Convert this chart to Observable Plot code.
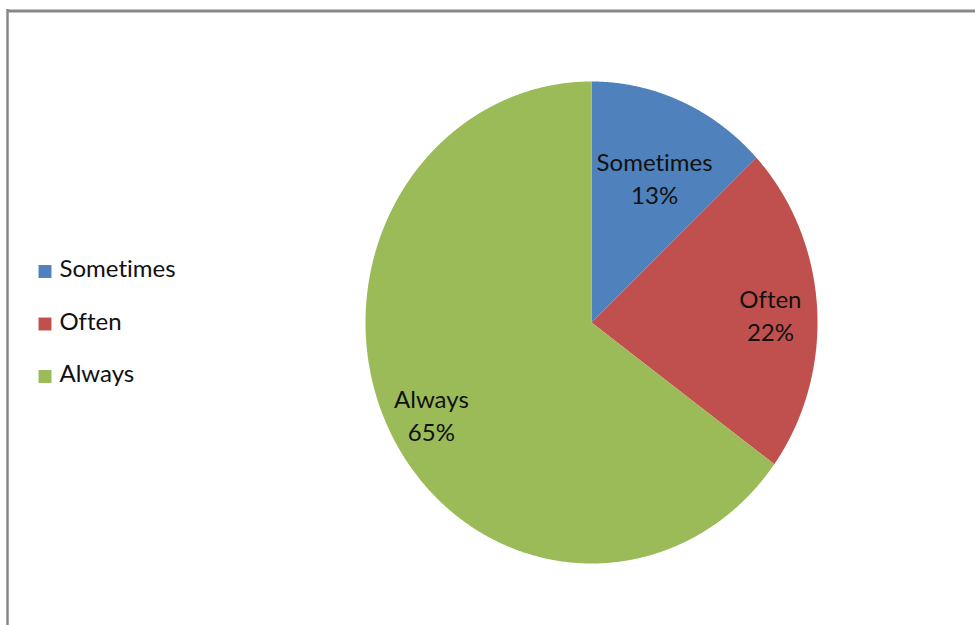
<!DOCTYPE html>
<html><head><meta charset="utf-8">
<script src="https://cdn.jsdelivr.net/npm/d3@7"></script>
<script src="https://cdn.jsdelivr.net/npm/@observablehq/plot@0.6"></script>
<style>body{margin:0;background:#fff} svg text{font-variant-ligatures:none;font-feature-settings:"liga" 0,"clig" 0}</style>
</head><body><div id="chart"></div>
<script>
// ---- data ----
const categories = ["Sometimes", "Often", "Always"];
const percents = [13, 22, 65];
const colors = ["#4F81BD", "#C0504D", "#9BBB59"];

// ---- layout ----
const W = 975, H = 625;
const cx = 591, cy = 322, rx = 226, ry = 241;
const labelRadius = [0.67, 0.78, 0.81];
const legendX = 38, legendY0 = 271, legendStep = 52.5;

const arcs = d3.pie().sort(null).value(d => d)(percents);
const slicePts = [];
const labels = [];
arcs.forEach((a, i) => {
  const cat = categories[i];
  slicePts.push({cat, x: cx, y: cy});
  const n = Math.max(2, Math.ceil((a.endAngle - a.startAngle) / 0.004));
  for (let k = 0; k <= n; k++) {
    const t = a.startAngle + (a.endAngle - a.startAngle) * k / n;
    slicePts.push({cat, x: cx + rx * Math.sin(t), y: cy - ry * Math.cos(t)});
  }
  const mid = (a.startAngle + a.endAngle) / 2;
  labels.push({
    cat,
    text: `${cat}\n${percents[i]}%`,
    x: cx + labelRadius[i] * rx * Math.sin(mid),
    y: cy - labelRadius[i] * ry * Math.cos(mid)
  });
});
const legend = categories.map((cat, i) => ({cat, x: legendX, y: legendY0 + i * legendStep}));

const chart = Plot.plot({
  width: W, height: H,
  margin: 0,
  x: {domain: [0, W], range: [0, W], axis: null},
  y: {domain: [0, H], range: [0, H], axis: null},
  color: {domain: categories, range: colors},
  style: {fontFamily: "Lato, 'Open Sans', sans-serif", background: "#fff"},
  marks: [
    Plot.line(slicePts, {x: "x", y: "y", z: "cat", fill: "cat", stroke: "none"}),
    Plot.text(labels, {x: "x", y: "y", dx: 3, dy: 3, text: "text", fontSize: 24, lineHeight: 1.375, fill: "#111"}),
    Plot.dot(legend, {x: d => d.x + 6.5, y: "y", symbol: "square", r: 7.3, fill: "cat", stroke: "none"}),
    Plot.text(legend, {x: d => d.x + 21, y: d => d.y - 2, text: "cat", textAnchor: "start", fontSize: 24, fill: "#111"}),
    Plot.ruleY([10.5], {x1: 7, x2: W, stroke: "#888", strokeWidth: 3}),
    Plot.ruleX([7], {y1: 9, y2: H, stroke: "#888", strokeWidth: 2.5})
  ]
});
document.getElementById("chart").append(chart);
</script>
</body></html>
